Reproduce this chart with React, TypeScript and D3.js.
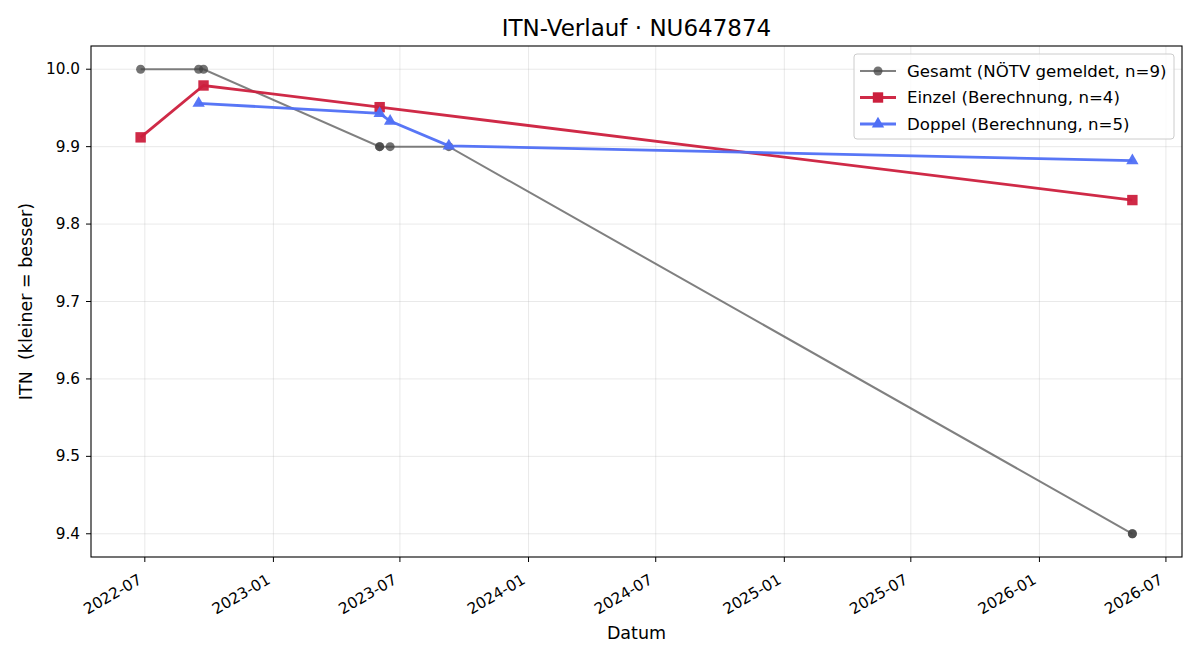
import React, { useEffect, useRef } from "react";
import * as d3 from "d3";

const gesamtDates = ["2022-06-25", "2022-09-16", "2022-09-23", "2023-06-02", "2023-06-02", "2023-06-17", "2023-09-09", "2026-05-14", "2026-05-14"];
const gesamtValues = [10.0, 10.0, 10.0, 9.9, 9.9, 9.9, 9.9, 9.4, 9.4];

const einzelDates = ["2022-06-25", "2022-09-23", "2023-06-02", "2026-05-14"];
const einzelValues = [9.912, 9.979, 9.951, 9.831];

const doppelDates = ["2022-09-16", "2023-06-02", "2023-06-17", "2023-09-09", "2026-05-14"];
const doppelValues = [9.956, 9.943, 9.933, 9.901, 9.882];

const xTicks = ["2022-07", "2023-01", "2023-07", "2024-01", "2024-07", "2025-01", "2025-07", "2026-01", "2026-07"];
const yTicks = [9.4, 9.5, 9.6, 9.7, 9.8, 9.9, 10.0];

const seriesNames = ["Gesamt (NÖTV gemeldet, n=9)", "Einzel (Berechnung, n=4)", "Doppel (Berechnung, n=5)"];

const W = 1200;
const H = 660;
const FONT = "DejaVu Sans, sans-serif";
const TICK_FS = 15.3;
const LEG_FS = 16.6;
const LABEL_FS = 17.5;

export default function App() {
  const ref = useRef<SVGSVGElement>(null);

  useEffect(() => {
    const svg = d3.select(ref.current);
    svg.selectAll("*").remove();

    const left = 91, right = 1182, top = 46, bottom = 557;
    const parse = d3.timeParse("%Y-%m-%d");
    const parseM = d3.timeParse("%Y-%m");

    const x = d3
      .scaleTime()
      .domain([parse("2022-04-15")!, parse("2026-07-24")!])
      .range([left, right]);
    const y = d3.scaleLinear().domain([9.37, 10.03]).range([bottom, top]);

    svg.append("rect").attr("width", W).attr("height", H).attr("fill", "#fff");

    // grid
    const tickDates = xTicks.map((t) => parseM(t)!);
    svg
      .append("g")
      .selectAll("line")
      .data(tickDates)
      .enter()
      .append("line")
      .attr("x1", (d) => x(d))
      .attr("x2", (d) => x(d))
      .attr("y1", top)
      .attr("y2", bottom)
      .attr("stroke", "#b0b0b0")
      .attr("stroke-opacity", 0.35)
      .attr("stroke-width", 0.8);
    svg
      .append("g")
      .selectAll("line")
      .data(yTicks)
      .enter()
      .append("line")
      .attr("x1", left)
      .attr("x2", right)
      .attr("y1", (d) => y(d))
      .attr("y2", (d) => y(d))
      .attr("stroke", "#b0b0b0")
      .attr("stroke-opacity", 0.35)
      .attr("stroke-width", 0.8);

    // series
    const line = d3
      .line<[Date, number]>()
      .x((d) => x(d[0]))
      .y((d) => y(d[1]));

    const gesamt: [Date, number][] = gesamtDates.map((d, i) => [parse(d)!, gesamtValues[i]]);
    const einzel: [Date, number][] = einzelDates.map((d, i) => [parse(d)!, einzelValues[i]]);
    const doppel: [Date, number][] = doppelDates.map((d, i) => [parse(d)!, doppelValues[i]]);

    const plot = svg.append("g");

    plot
      .append("path")
      .attr("d", line(gesamt)!)
      .attr("fill", "none")
      .attr("stroke", "#555")
      .attr("stroke-opacity", 0.75)
      .attr("stroke-width", 2);
    plot
      .append("g")
      .selectAll("circle")
      .data(gesamt)
      .enter()
      .append("circle")
      .attr("cx", (d) => x(d[0]))
      .attr("cy", (d) => y(d[1]))
      .attr("r", 4.5)
      .attr("fill", "#444")
      .attr("fill-opacity", 0.75);

    const red = "#cc1f3d";
    plot
      .append("path")
      .attr("d", line(einzel)!)
      .attr("fill", "none")
      .attr("stroke", red)
      .attr("stroke-opacity", 0.95)
      .attr("stroke-width", 2.8);
    plot
      .append("g")
      .selectAll("rect")
      .data(einzel)
      .enter()
      .append("rect")
      .attr("x", (d) => x(d[0]) - 5.2)
      .attr("y", (d) => y(d[1]) - 5.2)
      .attr("width", 10.4)
      .attr("height", 10.4)
      .attr("fill", red)
      .attr("fill-opacity", 0.95);

    const blue = "#4f6ff5";
    const tri = d3.symbol().type(d3.symbolTriangle).size(66);
    plot
      .append("path")
      .attr("d", line(doppel)!)
      .attr("fill", "none")
      .attr("stroke", blue)
      .attr("stroke-opacity", 0.95)
      .attr("stroke-width", 2.8);
    plot
      .append("g")
      .selectAll("path")
      .data(doppel)
      .enter()
      .append("path")
      .attr("transform", (d) => `translate(${x(d[0])},${y(d[1])})`)
      .attr("d", tri()!)
      .attr("fill", blue)
      .attr("fill-opacity", 0.95);

    // axes frame
    svg
      .append("rect")
      .attr("x", left)
      .attr("y", top)
      .attr("width", right - left)
      .attr("height", bottom - top)
      .attr("fill", "none")
      .attr("stroke", "#000")
      .attr("stroke-width", 1.1);

    // x ticks
    const xg = svg.append("g");
    tickDates.forEach((d, i) => {
      const px = x(d);
      xg.append("line")
        .attr("x1", px)
        .attr("x2", px)
        .attr("y1", bottom)
        .attr("y2", bottom + 5)
        .attr("stroke", "#000");
      xg.append("text")
        .attr("transform", `translate(${px - 2},${bottom + 25.7}) rotate(-30)`)
        .attr("text-anchor", "end")
        .attr("font-family", FONT)
        .attr("font-size", TICK_FS)
        .text(xTicks[i]);
    });

    // y ticks
    const yg = svg.append("g");
    yTicks.forEach((v) => {
      yg.append("line")
        .attr("x1", left - 5)
        .attr("x2", left)
        .attr("y1", y(v))
        .attr("y2", y(v))
        .attr("stroke", "#000");
      yg.append("text")
        .attr("x", left - 11)
        .attr("y", y(v))
        .attr("text-anchor", "end")
        .attr("dominant-baseline", "central")
        .attr("font-family", FONT)
        .attr("font-size", TICK_FS)
        .text(d3.format(".1f")(v));
    });

    // labels
    svg.append("text")
      .attr("x", (left + right) / 2)
      .attr("y", 28)
      .attr("text-anchor", "middle")
      .attr("dominant-baseline", "central")
      .attr("font-family", FONT)
      .attr("font-size", 23)
      .text("ITN-Verlauf · NU647874");
    svg.append("text")
      .attr("x", (left + right) / 2)
      .attr("y", 633)
      .attr("text-anchor", "middle")
      .attr("dominant-baseline", "central")
      .attr("font-family", FONT)
      .attr("font-size", LABEL_FS)
      .text("Datum");
    svg.append("text")
      .attr("transform", `translate(26,${(top + bottom) / 2}) rotate(-90)`)
      .attr("text-anchor", "middle")
      .attr("dominant-baseline", "central")
      .attr("font-family", FONT)
      .attr("font-size", LABEL_FS)
      .style("white-space", "pre")
      .text("ITN  (kleiner = besser)");

    // legend
    const lg = svg.append("g").attr("transform", "translate(854,54)");
    lg.append("rect")
      .attr("width", 320)
      .attr("height", 85)
      .attr("rx", 3)
      .attr("fill", "#fff")
      .attr("fill-opacity", 0.8)
      .attr("stroke", "#ccc");
    const colors = ["#555", red, blue];
    seriesNames.forEach((name, i) => {
      const cy = 17 + i * 26.5;
      lg.append("line")
        .attr("x1", 6)
        .attr("x2", 42)
        .attr("y1", cy)
        .attr("y2", cy)
        .attr("stroke", colors[i])
        .attr("stroke-opacity", i === 0 ? 0.75 : 0.95)
        .attr("stroke-width", i === 0 ? 2 : 2.8);
      if (i === 0) {
        lg.append("circle").attr("cx", 24).attr("cy", cy).attr("r", 4.5).attr("fill", "#444").attr("fill-opacity", 0.75);
      } else if (i === 1) {
        lg.append("rect").attr("x", 18.8).attr("y", cy - 5.2).attr("width", 10.4).attr("height", 10.4).attr("fill", red);
      } else {
        lg.append("path").attr("transform", `translate(24,${cy})`).attr("d", tri()!).attr("fill", blue);
      }
      lg.append("text")
        .attr("x", 53)
        .attr("y", cy)
        .attr("dominant-baseline", "central")
        .attr("font-family", FONT)
        .attr("font-size", LEG_FS)
        .text(name);
    });
  }, []);

  return (
    <svg
      ref={ref}
      width={W}
      height={H}
      style={{ position: "absolute", left: 0, top: 0, display: "block" }}
    />
  );
}
